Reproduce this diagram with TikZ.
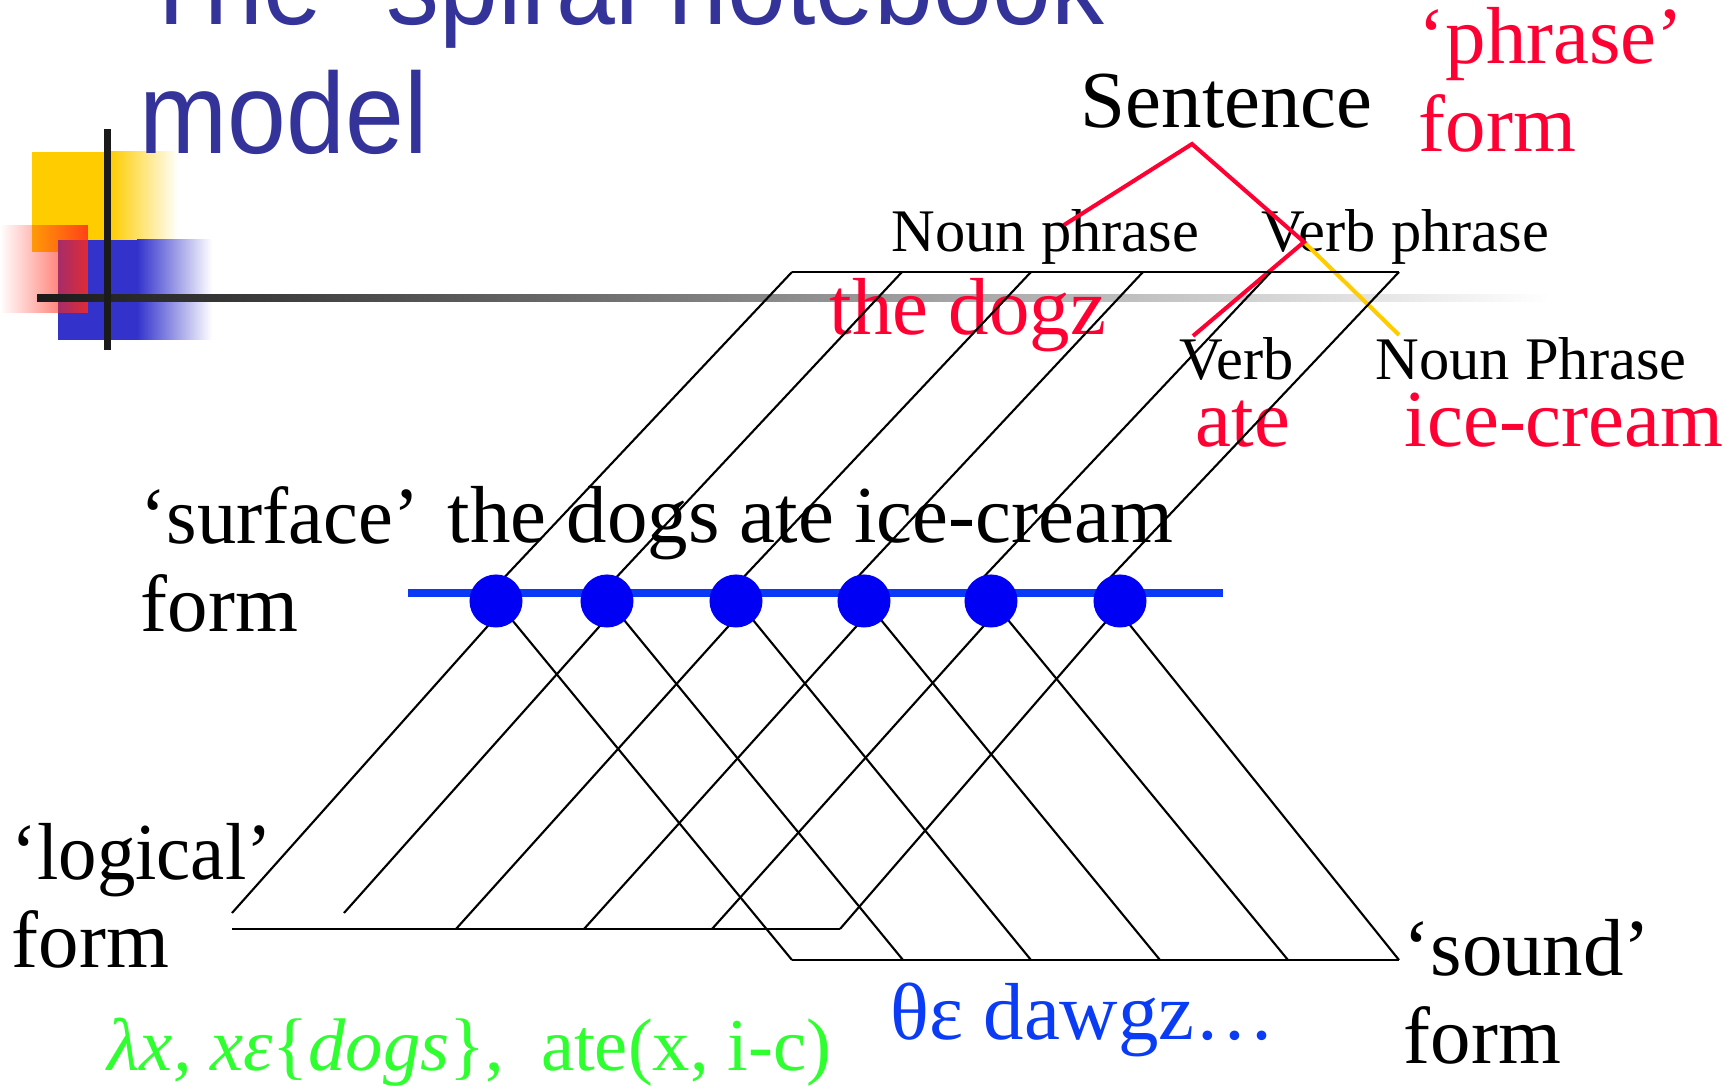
\documentclass[tikz,border=0pt]{standalone}
\usepackage{fontspec}
\setmainfont{Liberation Serif}
\newfontfamily\titlefont[FakeStretch=0.92]{Liberation Sans}
\usetikzlibrary{fadings}
\definecolor{ink}{HTML}{1A1A1A}
\definecolor{slate}{HTML}{333399}
\definecolor{gold}{HTML}{FFCC00}
\definecolor{royal}{HTML}{3333CC}
\definecolor{flame}{HTML}{FF2A1A}
\definecolor{treered}{HTML}{FF0033}
\definecolor{spine}{HTML}{0A3AF5}
\definecolor{ringblue}{HTML}{0000F5}
\definecolor{logicgreen}{HTML}{2EFF2E}
\definecolor{soundblue}{HTML}{0A3CF5}
\tikzfading[name=redfade, left color=transparent!100, right color=transparent!15]

\begin{document}
\begin{tikzpicture}[x=0.01cm, y=-0.01cm,
    big/.style={anchor=base west, inner sep=0pt, align=left, font=\fontsize{23}{25.3}\selectfont},
    small/.style={anchor=base west, inner sep=0pt, font=\fontsize{17.2}{18}\selectfont},
    page/.style={line width=0.6pt},
    branch/.style={line width=1.15pt},
    ring/.style={circle, fill=ringblue, inner sep=0pt, minimum size=0.53cm}]
    \useasboundingbox(0,0)rectangle(1735,1089);\clip(0,0)rectangle(1735,1089);
    % corner ornament
    \fill[gold](32,152)rectangle(111,252);\shade[left color=gold,right color=white](110,152)rectangle(178,252);
    \fill[royal](58,240)rectangle(138,340);\shade[left color=royal,right color=white](137,240)rectangle(212,340);
    \fill[flame,path fading=redfade](0,225)rectangle(88,313);
    \shade[left color=ink,right color=white](37,295)rectangle(1550,301.7);
    \fill[ink](104,129)rectangle(110.7,350);
    % two-line labels sit on the baseline of their last line
    \node[anchor=base west,inner sep=0pt,align=left,slate,font=\titlefont\fontsize{32.7}{36.7}\selectfont](title)at(139,154){The “spiral notebook”\\model};
    % labels
    \node[big](sent)at(1080,128){Sentence};
    \node[big,treered](pform)at(1418,152){‘phrase’\\form};
    \node[small](np)at(891,252){Noun phrase};
    \node[small](vp)at(1261,252){Verb phrase};
    \node[small](vb)at(1179,380){Verb};
    \node[small](obj)at(1375,380){Noun Phrase};
    \node[big,treered](dogz)at(829,335){the dogz};
    \node[big,treered](ate)at(1195,447){ate};
    \node[big,treered](cream)at(1404,447){ice-cream};
    \node[big](surf)at(140,632){\scalebox{0.97}[1]{‘surface’}\\form};
    \node[big](words)at(447,543){the dogs ate ice-cream};
    \node[big](logic)at(11,968){\scalebox{0.95}[1]{‘logical’}\\form};
    \node[big](snd)at(1403,1064){‘sound’\\form};
    \node[big,logicgreen,font=\fontsize{21.2}{24}\selectfont](lform)at(107,1071){\textit{λx, xε}\{\textit{dogs}\},\ \ ate(x, i-c)};
    \node[big,soundblue](sform)at(890,1040){θε dawgz…};
    % phrase tree
    \coordinate(apex)at(1192,144);\coordinate(npend)at(1064,225);\coordinate(vpknot)at(1304,242);
    \coordinate(vend)at(1193,336);\coordinate(objend)at(1399,335);
    \draw[branch,gold](vpknot)--(objend);
    \draw[branch,treered](npend)--(apex)--(vpknot)--(vend);
    % pages: top edge, surface points, bottom edges
    \coordinate(t1)at(792,272);\coordinate(t2)at(902,272);\coordinate(t3)at(1031,272);
    \coordinate(t4)at(1143,272);\coordinate(t5)at(1271,272);\coordinate(t6)at(1399,272);
    \coordinate(u1)at(500,582);\coordinate(u2)at(612,582);\coordinate(u3)at(739,582);
    \coordinate(u4)at(853,582);\coordinate(u5)at(979,582);\coordinate(u6)at(1106,582);
    \coordinate(b1)at(503,609);\coordinate(b2)at(615,609);\coordinate(b3)at(744,609);
    \coordinate(b4)at(872,609);\coordinate(b5)at(999,609);\coordinate(b6)at(1117,609);
    \coordinate(l1)at(232,913);\coordinate(l2)at(344,913);\coordinate(l3)at(456,929);
    \coordinate(l4)at(584,929);\coordinate(l5)at(712,929);\coordinate(l6)at(840,929);\coordinate(l0)at(232,929);
    \coordinate(s1)at(792,960);\coordinate(s2)at(903,960);\coordinate(s3)at(1031,960);
    \coordinate(s4)at(1160,960);\coordinate(s5)at(1288,960);\coordinate(s6)at(1399,960);
    \draw[page](t1)--(t6);\draw[page](l0)--(l6);\draw[page](s1)--(s6);
    \draw[page](t1)--(u1);\draw[page](t2)--(u2);\draw[page](t3)--(u3);
    \draw[page](t4)--(u4);\draw[page](t5)--(u5);\draw[page](t6)--(u6);
    \draw[page](l1)--(b1)--(s1);\draw[page](l2)--(b2)--(s2);\draw[page](l3)--(b3)--(s3);
    \draw[page](l4)--(b4)--(s4);\draw[page](l5)--(b5)--(s5);\draw[page](l6)--(b6)--(s6);
    % the spiral
    \coordinate(rl)at(408,593);\coordinate(rr)at(1223,593);
    \draw[spine,line width=2.13pt](rl)--(rr);
    \node[ring](d1)at(496,601){};\node[ring](d2)at(607,601){};\node[ring](d3)at(736,601){};
    \node[ring](d4)at(864,601){};\node[ring](d5)at(991,601){};\node[ring](d6)at(1120,601){};
\end{tikzpicture}
\end{document}
